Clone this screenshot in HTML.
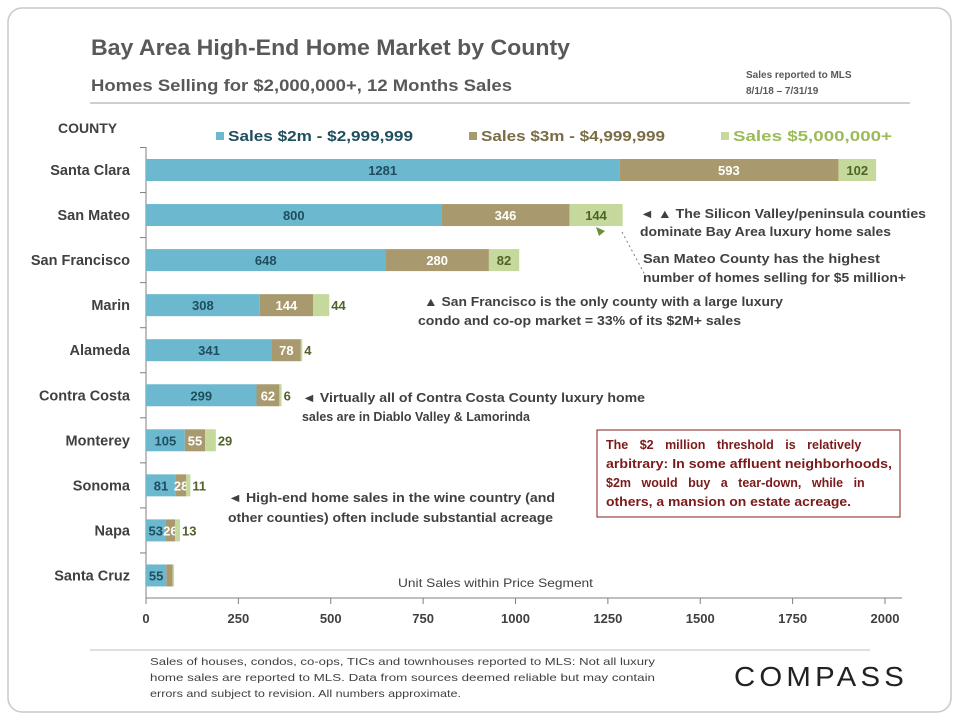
<!DOCTYPE html>
<html><head><meta charset="utf-8"><style>
body{margin:0;width:960px;height:720px;background:#fff;font-family:"Liberation Sans",sans-serif;overflow:hidden}
svg text{font-family:"Liberation Sans",sans-serif}
</style></head><body>
<svg id="c" width="960" height="720">
<rect x="8" y="8" width="943" height="704" rx="14" fill="#fff" stroke="#c8c8c8" stroke-width="1.5"/>
<text x="91" y="55" font-size="22" font-weight="bold" fill="#595959" textLength="479" lengthAdjust="spacingAndGlyphs">Bay Area High-End Home Market by County</text>
<text x="91" y="91" font-size="17" font-weight="bold" fill="#595959" textLength="421" lengthAdjust="spacingAndGlyphs">Homes Selling for $2,000,000+, 12 Months Sales</text>
<text x="746" y="78" font-size="10" font-weight="bold" fill="#595959">Sales reported to MLS</text>
<text x="746" y="94" font-size="10" font-weight="bold" fill="#595959">8/1/18 – 7/31/19</text>
<line x1="90" y1="103" x2="910" y2="103" stroke="#bfbfbf" stroke-width="1.5"/>
<text x="58" y="133" font-size="14" font-weight="bold" fill="#404040">COUNTY</text>
<g>
<rect x="216" y="132" width="8" height="8" fill="#6cb8cf"/>
<text x="228" y="141" font-size="15" font-weight="bold" fill="#1f4e5f" textLength="185" lengthAdjust="spacingAndGlyphs">Sales $2m - $2,999,999</text>
<rect x="469" y="132" width="8" height="8" fill="#a89a6e"/>
<text x="481" y="141" font-size="15" font-weight="bold" fill="#7a6d45" textLength="184" lengthAdjust="spacingAndGlyphs">Sales $3m - $4,999,999</text>
<rect x="721" y="132" width="8" height="8" fill="#c4d99b"/>
<text x="733" y="141" font-size="15" font-weight="bold" fill="#9bbb59" textLength="159" lengthAdjust="spacingAndGlyphs">Sales $5,000,000+</text>
</g>
<g id="plot"></g>
<text x="398" y="587" font-size="12" fill="#404040" textLength="195" lengthAdjust="spacingAndGlyphs">Unit Sales within Price Segment</text>
<g font-size="12.5" font-weight="bold" fill="#404040">
<text><tspan x="640" y="218" textLength="286" lengthAdjust="spacingAndGlyphs">◄ ▲ The Silicon Valley/peninsula counties</tspan><tspan x="640" y="236" textLength="251" lengthAdjust="spacingAndGlyphs">dominate Bay Area luxury home sales</tspan></text>
<text><tspan x="643" y="263" textLength="237" lengthAdjust="spacingAndGlyphs">San Mateo County has the highest</tspan><tspan x="643" y="282" textLength="263" lengthAdjust="spacingAndGlyphs">number of homes selling for $5 million+</tspan></text>
<text><tspan x="424" y="306" textLength="359" lengthAdjust="spacingAndGlyphs">▲ San Francisco is the only county with a large luxury</tspan><tspan x="418" y="325" textLength="323" lengthAdjust="spacingAndGlyphs">condo and co-op market = 33% of its $2M+ sales</tspan></text>
<text><tspan x="302" y="402" textLength="343" lengthAdjust="spacingAndGlyphs">◄ Virtually all of Contra Costa County luxury home</tspan><tspan x="302" y="421" textLength="228" lengthAdjust="spacingAndGlyphs">sales are in Diablo Valley &amp; Lamorinda</tspan></text>
<text><tspan x="228" y="502" textLength="327" lengthAdjust="spacingAndGlyphs">◄ High-end home sales in the wine country (and</tspan><tspan x="228" y="522" textLength="325" lengthAdjust="spacingAndGlyphs">other counties) often include substantial acreage</tspan></text>
</g>
<line x1="622" y1="232" x2="645" y2="275" stroke="#7f7f7f" stroke-dasharray="2,3"/>
<polygon points="596,227 605,231 599,236" fill="#6b8e3a"/>
<rect x="597" y="430" width="303" height="87" fill="#fff" stroke="#8b1a1a" stroke-width="1"/>
<g font-size="12.5" font-weight="bold" fill="#7b1a1a">
<text x="606" y="449" word-spacing="8">The $2 million threshold is relatively</text>
<text x="606" y="468" textLength="286" lengthAdjust="spacingAndGlyphs">arbitrary: In some affluent neighborhoods,</text>
<text x="606" y="487" word-spacing="7">$2m would buy a tear-down, while in</text>
<text x="606" y="506" textLength="245" lengthAdjust="spacingAndGlyphs">others, a mansion on estate acreage.</text>
</g>
<line x1="90" y1="650" x2="870" y2="650" stroke="#bfbfbf" stroke-width="1"/>
<text font-size="10.5" fill="#404040"><tspan x="150" y="665" textLength="505" lengthAdjust="spacingAndGlyphs">Sales of houses, condos, co-ops, TICs and townhouses reported to MLS: Not all luxury</tspan><tspan x="150" y="681" textLength="505" lengthAdjust="spacingAndGlyphs">home sales are reported to MLS. Data from sources deemed reliable but may contain</tspan><tspan x="150" y="697" textLength="311" lengthAdjust="spacingAndGlyphs">errors and subject to revision. All numbers approximate.</tspan></text>
<text x="734" y="686" font-size="28" letter-spacing="4" fill="#222" textLength="174" lengthAdjust="spacingAndGlyphs">COMPASS</text>
</svg>
<script>
const counties=["Santa Clara","San Mateo","San Francisco","Marin","Alameda","Contra Costa","Monterey","Sonoma","Napa","Santa Cruz"];
const sales2m=[1281,800,648,308,341,299,105,81,53,55];
const sales3m=[593,346,280,144,78,62,55,28,26,17];
const sales5m=[102,144,82,44,4,6,29,11,13,4];
const show3m=[true,true,true,true,true,true,true,true,true,false];
const show5m=[true,true,true,true,true,true,true,true,true,false];
const xTicks=[0,250,500,750,1000,1250,1500,1750,2000];
const NS="http://www.w3.org/2000/svg";
const g=document.getElementById('plot');
const x0=146,x1=885,xMax=2000;
const xs=v=>x0+v*(x1-x0)/xMax;
const rowY=i=>170+i*45.05;
const bh=22;
function mk(t,a){const e=document.createElementNS(NS,t);for(const k in a)e.setAttribute(k,a[k]);g.appendChild(e);return e;}
let ax=mk('line',{x1:x0,y1:147,x2:x0,y2:598,stroke:'#7f7f7f'});


let bx=mk('line',{x1:x0,y1:598,x2:902,y2:598,stroke:'#7f7f7f'});


xTicks.forEach(t=>{
 const tk=mk('line',{x1:xs(t),y1:598,x2:xs(t),y2:604,stroke:'#7f7f7f'});
 
 
 const l=mk('text',{x:xs(t),y:623,'font-size':13,'font-weight':'bold',fill:'#404040','text-anchor':'middle'});
 l.textContent=t;
 
 
});
counties.forEach((c,i)=>{
 const y=rowY(i);
 const tk=mk('line',{x1:140,y1:y-22.5,x2:x0,y2:y-22.5,stroke:'#7f7f7f'});
 
 
 const l=mk('text',{x:130,y:y+5,'font-size':14.5,'font-weight':'bold',fill:'#404040','text-anchor':'end'});
 l.textContent=c;
 
 
 const segs=[[sales2m[i],'#6cb8cf','#1f4e5f',true],[sales3m[i],'#a89a6e','#fff',show3m[i]],[sales5m[i],'#c4d99b','#4f6228',show5m[i]]];
 let acc=0;
 segs.forEach((s,k)=>{
  const xa=xs(acc),xb=xs(acc+s[0]);
  const r=mk('rect',{x:xa,y:y-bh/2,width:xb-xa,height:bh,fill:s[1]});
  
  
  if(s[3]){
   const w=xb-xa;
   let tx=(xa+xb)/2,anchor='middle';
   if(k==2&&w<22){tx=xb+2;anchor='start';}
   const t=mk('text',{x:tx,y:y+5,'font-size':13,'font-weight':'bold',fill:s[2],'text-anchor':anchor});
   t.textContent=s[0];
   
   
  }
  acc+=s[0];
 });
});
</script>
</body></html>
